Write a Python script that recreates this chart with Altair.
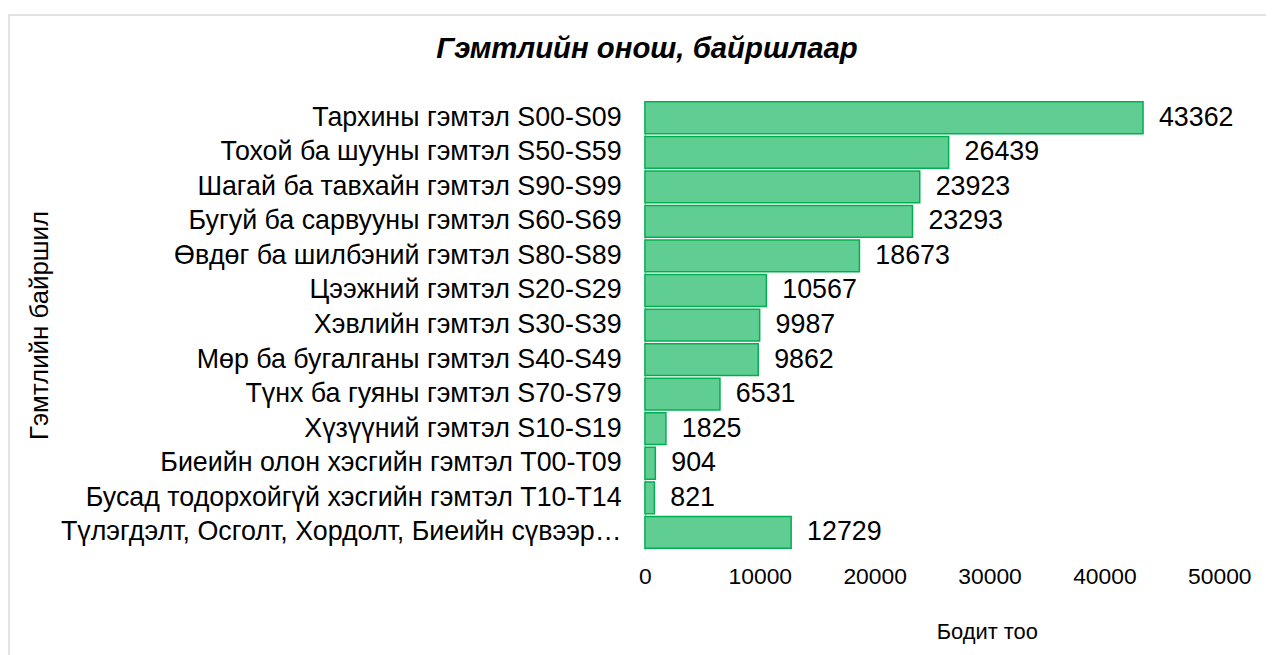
import altair as alt
import pandas as pd

categories = [
    "Тархины гэмтэл S00-S09",
    "Тохой ба шууны гэмтэл S50-S59",
    "Шагай ба тавхайн гэмтэл S90-S99",
    "Бугуй ба сарвууны гэмтэл S60-S69",
    "Өвдөг ба шилбэний гэмтэл S80-S89",
    "Цээжний гэмтэл S20-S29",
    "Хэвлийн гэмтэл S30-S39",
    "Мөр ба бугалганы гэмтэл S40-S49",
    "Түнх ба гуяны гэмтэл S70-S79",
    "Хүзүүний гэмтэл S10-S19",
    "Биеийн олон хэсгийн гэмтэл T00-T09",
    "Бусад тодорхойгүй хэсгийн гэмтэл T10-T14",
    "Түлэгдэлт, Осголт, Хордолт, Биеийн сүвээр орсон гадны биет T15-T98",
]
values = [43362, 26439, 23923, 23293, 18673, 10567, 9987, 9862, 6531, 1825, 904, 821, 12729]
x_ticks = [0, 10000, 20000, 30000, 40000, 50000]

df = pd.DataFrame({"cat": categories, "val": values})

FONT = "Liberation Sans"
GREEN = "#00B050"

y_enc = alt.Y(
    "cat:N",
    sort=categories,
    scale=alt.Scale(paddingInner=0.08, paddingOuter=0.04),
    axis=alt.Axis(
        title="Гэмтлийн байршил",
        titleX=-609,
        titleY=226,
        titleAngle=-90,
        titleAlign="center",
        titleBaseline="middle",
        titleFontSize=26,
        titleFontWeight="normal",
        titleColor="#000000",
        labelFontSize=27,
        labelColor="#000000",
        labelPadding=24,
        labelLimit=572,
        ticks=False,
        domain=True,
        domainColor="#bfbfbf",
        domainWidth=1.5,
        grid=False,
    ),
)
x_enc = alt.X(
    "val:Q",
    scale=alt.Scale(domain=[0, 50000], nice=False),
    axis=alt.Axis(
        values=x_ticks,
        title="Бодит тоо",
        titleX=344,
        titleY=82,
        titleAlign="center",
        titleBaseline="middle",
        titleFontSize=22,
        titleFontWeight="normal",
        titleColor="#000000",
        labelFontSize=23,
        labelColor="#000000",
        labelPadding=16,
        labelFlush=False,
        ticks=False,
        domain=False,
        grid=False,
        format="d",
    ),
)

bars = alt.Chart(df).mark_bar(
    fill="#60CD92", stroke=GREEN, strokeWidth=1.5
).encode(y=y_enc, x=x_enc)

labels = alt.Chart(df).mark_text(
    align="left", baseline="middle", dx=16, fontSize=27, font=FONT, color="#000000"
).encode(y=alt.Y("cat:N", sort=categories), x="val:Q", text="val:Q")

frame = alt.Chart(alt.Data(values=[{"a": 1}])).mark_rect(
    fillOpacity=0, stroke="#d9d9d9", strokeWidth=1.5, clip=False
).encode(
    x=alt.value(-640), x2=alt.value(700), y=alt.value(-86), y2=alt.value(600)
)

chart = alt.layer(frame, bars, labels).properties(
    width=578,
    height=452,
    autosize=alt.AutoSizeParams(type="none"),
    padding={"left": 641, "top": 91, "right": 47, "bottom": 104},
    title=alt.TitleParams(
        "Гэмтлийн онош, байршлаар",
        frame="group",
        anchor="middle",
        dx=-287,
        offset=-51,
        fontSize=29.5,
        fontStyle="italic",
        fontWeight="bold",
        font=FONT,
        color="#000000",
    ),
).configure(font=FONT).configure_view(stroke=None)

chart.save("out.html", embed_options={"renderer": "svg", "actions": False})
